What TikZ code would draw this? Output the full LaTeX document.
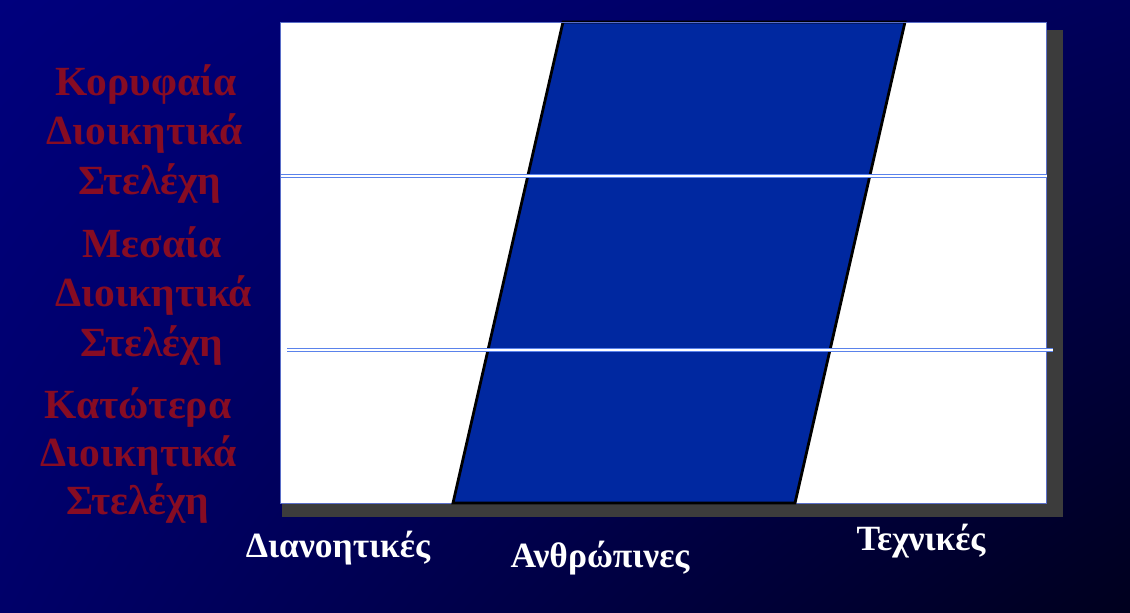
\documentclass[tikz,border=0pt]{standalone}
\usepackage{fontspec}
\setmainfont{Liberation Serif}
\usetikzlibrary{shadings}
\definecolor{navyA}{RGB}{0,0,125}
\definecolor{navyB}{RGB}{0,0,90}
\definecolor{navyC}{RGB}{0,0,105}
\definecolor{navyD}{RGB}{0,0,30}
\definecolor{bandblue}{RGB}{0,40,160}
\definecolor{linecol}{RGB}{90,130,235}
\definecolor{labred}{RGB}{135,12,35}
\definecolor{shadowgray}{RGB}{60,60,60}
\tikzset{
  lvl/.style={font=\fontsize{41.5}{41.5}\selectfont\bfseries, text=labred, anchor=base, inner sep=0pt},
  skill/.style={font=\fontsize{35.5}{35.5}\selectfont\bfseries, text=white, anchor=base, inner sep=0pt},
  sep/.style={draw=linecol, line width=1.7pt, double=white, double distance=1.3pt},
}
\begin{document}
\begin{tikzpicture}[x=1pt,y=-1pt]
\useasboundingbox (0,0) rectangle (1130,613);
\shade[upper left=navyA, upper right=navyB, lower left=navyC, lower right=navyD] (0,0) rectangle (1130,613);
% shadow and chart area
\fill[shadowgray] (282,30) rectangle (1063,517);
\node[draw={rgb,255:red,90;green,110;blue,200}, line width=0.8pt, fill=white, minimum width=766pt, minimum height=481pt, inner sep=0pt, anchor=north west] (box) at (280,22) {};
% band
\filldraw[fill=bandblue, draw=black, line width=2.8pt] (563,22) coordinate (bt1) -- (905,22) coordinate (bt2) -- (795,503) coordinate (bb2) -- (453,503) coordinate (bb1) -- cycle;
\draw[draw={rgb,255:red,90;green,110;blue,200}, line width=0.8pt] (280,22) -- (1046,22);
% separator lines
\coordinate (s1a) at (281,176);
\coordinate (s1b) at (1047,176);
\coordinate (s2a) at (287,350);
\coordinate (s2b) at (1053,350);
\draw[sep] (s1a) -- (s1b);
\draw[sep] (s2a) -- (s2b);
% level labels
\node[lvl] (t1) at (146,95) {Κορυφαία};
\node[lvl] (t2) at (145,144) {Διοικητικά};
\node[lvl] (t3) at (150,194) {Στελέχη};
\node[lvl] (m1) at (152,257) {Μεσαία};
\node[lvl] (m2) at (154,306) {Διοικητικά};
\node[lvl] (m3) at (152,356) {Στελέχη};
\node[lvl] (k1) at (138,418) {Κατώτερα};
\node[lvl] (k2) at (139,466) {Διοικητικά};
\node[lvl] (k3) at (138,514) {Στελέχη};
% skill labels
\node[skill] (s1) at (338,557) {Διανοητικές};
\node[skill] (s2) at (600,567) {Ανθρώπινες};
\node[skill] (s3) at (921,550) {Τεχνικές};
\end{tikzpicture}
\end{document}
